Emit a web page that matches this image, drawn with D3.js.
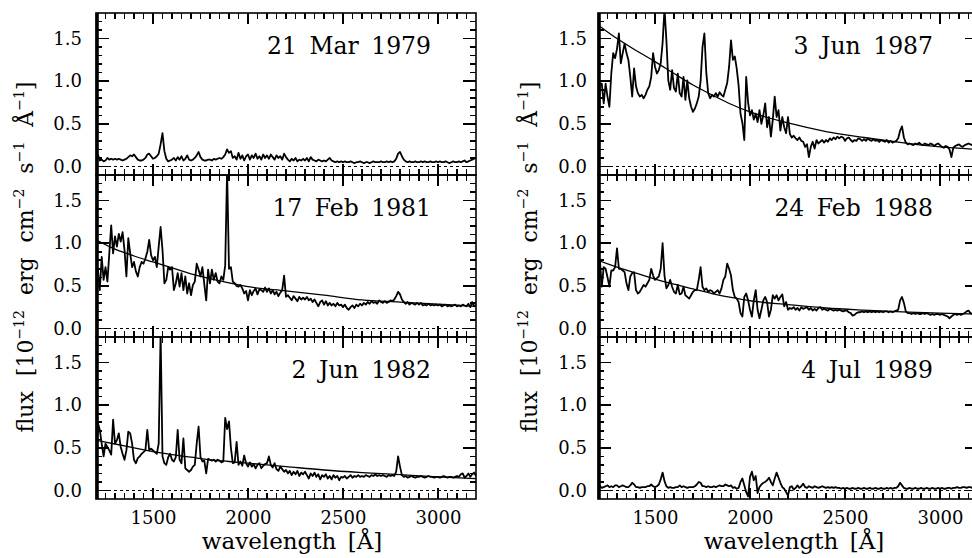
<!DOCTYPE html>
<html>
<head>
<meta charset="utf-8">
<script src="https://cdn.jsdelivr.net/npm/d3@7"></script>
<style>
  body { margin: 0; background: #fff; }
  svg { display: block; }
  text { font-family: "DejaVu Serif", serif; fill: #000; }
</style>
</head>
<body>
<svg id="chart" width="972" height="558"></svg>
<script>
// Spectra sampled on a regular wavelength grid (Å), flux in 1e-12 erg cm^-2 s^-1 Å^-1
const waveStart = 1200, waveEnd = 3200, waveStep = 10;

const flux1979 = [
  0.02,0.14,0.07,0.08,0.06,0.07,0.10,0.08,0.09,0.08,
  0.09,0.08,0.09,0.08,0.07,0.08,0.09,0.11,0.13,0.12,
  0.14,0.11,0.08,0.07,0.07,0.08,0.10,0.14,0.15,0.12,
  0.09,0.10,0.12,0.15,0.26,0.39,0.18,0.09,0.06,0.07,
  0.08,0.10,0.07,0.11,0.08,0.12,0.07,0.09,0.13,0.08,
  0.07,0.08,0.10,0.13,0.17,0.11,0.08,0.07,0.07,0.08,
  0.08,0.07,0.09,0.08,0.09,0.10,0.09,0.11,0.14,0.20,
  0.16,0.18,0.10,0.12,0.08,0.16,0.09,0.13,0.07,0.12,
  0.14,0.08,0.13,0.10,0.15,0.09,0.12,0.08,0.14,0.10,
  0.13,0.09,0.14,0.11,0.08,0.13,0.10,0.12,0.08,0.15,
  0.11,0.08,0.06,0.09,0.07,0.10,0.06,0.08,0.07,0.09,
  0.07,0.10,0.06,0.11,0.08,0.07,0.06,0.08,0.07,0.06,
  0.07,0.06,0.08,0.10,0.07,0.06,0.05,0.06,0.05,0.06,
  0.05,0.06,0.05,0.05,0.06,0.05,0.04,0.05,0.05,0.06,
  0.05,0.04,0.05,0.05,0.04,0.05,0.06,0.05,0.05,0.05,
  0.06,0.05,0.05,0.06,0.05,0.06,0.05,0.06,0.09,0.15,
  0.17,0.12,0.08,0.06,0.05,0.06,0.05,0.05,0.06,0.05,
  0.05,0.06,0.05,0.06,0.05,0.05,0.06,0.05,0.05,0.06,
  0.05,0.06,0.05,0.05,0.06,0.05,0.04,0.05,0.06,0.05,
  0.05,0.06,0.05,0.06,0.07,0.05,0.06,0.07,0.08,0.09,
  0.10
];

const flux1981 = [
  0.33,0.69,0.45,0.84,0.57,0.72,0.55,0.88,1.21,0.88,
  1.08,0.96,1.11,1.02,1.13,0.92,0.61,1.06,0.88,0.72,
  0.78,0.67,0.61,0.72,0.78,0.76,0.82,0.90,1.04,0.86,
  0.80,0.84,0.72,0.96,1.19,0.92,0.53,0.57,0.72,0.69,
  0.72,0.45,0.53,0.65,0.49,0.65,0.45,0.61,0.41,0.53,
  0.39,0.51,0.55,0.76,0.69,0.61,0.72,0.52,0.33,0.69,
  0.53,0.69,0.57,0.65,0.55,0.53,0.61,0.57,0.74,1.85,
  0.70,0.72,0.55,0.53,0.50,0.49,0.51,0.47,0.41,0.44,
  0.33,0.45,0.39,0.44,0.47,0.40,0.46,0.45,0.43,0.48,
  0.43,0.47,0.41,0.45,0.40,0.43,0.38,0.42,0.45,0.62,
  0.37,0.39,0.36,0.33,0.38,0.35,0.32,0.37,0.34,0.36,
  0.34,0.37,0.33,0.35,0.31,0.34,0.30,0.26,0.31,0.33,
  0.28,0.32,0.27,0.30,0.27,0.29,0.26,0.30,0.27,0.28,
  0.25,0.28,0.24,0.22,0.25,0.27,0.24,0.28,0.26,0.29,
  0.27,0.30,0.28,0.31,0.29,0.32,0.30,0.31,0.29,0.33,
  0.31,0.30,0.32,0.30,0.31,0.33,0.32,0.34,0.38,0.43,
  0.40,0.34,0.31,0.29,0.31,0.28,0.30,0.29,0.28,0.30,
  0.28,0.30,0.27,0.28,0.27,0.29,0.27,0.28,0.27,0.28,
  0.27,0.28,0.26,0.27,0.28,0.26,0.27,0.26,0.27,0.28,
  0.26,0.27,0.26,0.28,0.27,0.26,0.29,0.25,0.31,0.26,
  0.28
];

const flux1982 = [
  0.08,0.79,0.71,0.55,0.40,0.55,0.51,0.47,0.42,0.83,
  0.55,0.59,0.67,0.51,0.43,0.36,0.47,0.69,0.67,0.55,
  0.36,0.32,0.38,0.40,0.43,0.45,0.47,0.71,0.47,0.49,
  0.47,0.45,0.43,0.55,1.85,0.40,0.32,0.30,0.39,0.43,
  0.36,0.34,0.39,0.71,0.36,0.32,0.61,0.26,0.24,0.22,
  0.24,0.28,0.30,0.55,0.75,0.39,0.34,0.35,0.20,0.37,
  0.36,0.35,0.36,0.34,0.36,0.35,0.33,0.34,0.85,0.72,
  0.81,0.50,0.32,0.33,0.57,0.30,0.34,0.29,0.41,0.32,
  0.28,0.33,0.28,0.31,0.26,0.30,0.32,0.26,0.29,0.31,
  0.32,0.40,0.30,0.27,0.32,0.25,0.23,0.28,0.25,0.22,
  0.24,0.20,0.23,0.18,0.22,0.19,0.23,0.17,0.21,0.19,
  0.22,0.18,0.14,0.20,0.17,0.21,0.16,0.19,0.13,0.18,
  0.16,0.19,0.14,0.17,0.13,0.18,0.15,0.17,0.12,0.16,
  0.15,0.17,0.14,0.16,0.18,0.15,0.17,0.16,0.18,0.16,
  0.17,0.16,0.18,0.17,0.16,0.18,0.17,0.19,0.17,0.18,
  0.17,0.18,0.17,0.16,0.18,0.17,0.18,0.17,0.22,0.40,
  0.28,0.18,0.16,0.17,0.15,0.16,0.17,0.16,0.15,0.16,
  0.16,0.17,0.16,0.15,0.16,0.17,0.16,0.16,0.15,0.16,
  0.16,0.15,0.16,0.17,0.16,0.15,0.16,0.16,0.15,0.16,
  0.17,0.16,0.19,0.20,0.15,0.17,0.20,0.16,0.19,0.21,
  0.17
];

const flux1987 = [
  0.05,0.97,0.97,0.74,0.97,0.82,0.70,1.09,1.33,1.27,
  1.38,1.56,1.21,1.33,1.44,1.33,1.25,1.05,0.82,1.15,
  0.94,0.86,0.82,0.84,0.80,0.84,0.90,0.94,1.05,1.33,
  1.17,1.09,1.13,1.21,1.45,1.85,1.48,1.01,0.90,1.13,
  0.92,0.88,1.09,0.86,0.82,1.05,0.78,1.01,0.80,0.70,
  0.64,0.68,0.74,0.82,1.00,1.40,1.56,1.10,0.86,0.80,
  0.84,0.82,0.86,0.82,0.87,0.84,0.82,0.90,0.98,1.17,
  1.48,1.25,1.29,1.15,0.95,0.62,0.51,0.31,1.05,0.75,
  0.60,0.66,0.55,0.62,0.52,0.66,0.50,0.60,0.74,0.46,
  0.58,0.35,0.55,0.82,0.58,0.66,0.42,0.58,0.46,0.39,
  0.58,0.38,0.34,0.36,0.33,0.31,0.34,0.30,0.29,0.23,
  0.26,0.11,0.23,0.29,0.21,0.31,0.27,0.29,0.31,0.28,
  0.31,0.29,0.33,0.31,0.34,0.32,0.35,0.33,0.35,0.34,
  0.30,0.33,0.34,0.31,0.29,0.31,0.30,0.33,0.32,0.30,
  0.32,0.30,0.33,0.31,0.30,0.32,0.30,0.31,0.29,0.31,
  0.30,0.29,0.31,0.28,0.30,0.28,0.29,0.30,0.33,0.42,
  0.47,0.34,0.28,0.26,0.27,0.26,0.25,0.27,0.26,0.28,
  0.26,0.25,0.27,0.26,0.25,0.27,0.26,0.24,0.26,0.27,
  0.25,0.23,0.22,0.24,0.23,0.20,0.11,0.22,0.24,0.25,
  0.26,0.24,0.23,0.25,0.26,0.27,0.26,0.25,0.27,0.26,
  0.25
];

const flux1988 = [
  0.49,0.80,0.49,0.72,0.70,0.60,0.49,0.68,0.68,0.72,
  0.94,0.70,0.70,0.68,0.66,0.53,0.45,0.61,0.65,0.66,
  0.45,0.41,0.43,0.47,0.51,0.49,0.53,0.57,0.70,0.62,
  0.57,0.59,0.61,0.70,1.00,0.62,0.47,0.51,0.57,0.49,
  0.43,0.41,0.51,0.40,0.41,0.49,0.39,0.37,0.35,0.39,
  0.43,0.45,0.45,0.57,0.72,0.49,0.45,0.47,0.43,0.45,
  0.44,0.41,0.43,0.45,0.41,0.47,0.57,0.61,0.76,0.70,
  0.62,0.45,0.37,0.35,0.31,0.18,0.14,0.37,0.41,0.33,
  0.22,0.14,0.33,0.45,0.22,0.12,0.22,0.33,0.37,0.31,
  0.14,0.22,0.39,0.35,0.39,0.33,0.37,0.40,0.26,0.31,
  0.22,0.24,0.23,0.25,0.22,0.24,0.21,0.25,0.23,0.24,
  0.25,0.22,0.24,0.21,0.23,0.21,0.24,0.25,0.22,0.23,
  0.22,0.21,0.23,0.22,0.21,0.22,0.21,0.22,0.21,0.20,
  0.21,0.21,0.19,0.18,0.15,0.16,0.18,0.19,0.19,0.20,
  0.19,0.20,0.19,0.20,0.19,0.20,0.19,0.20,0.19,0.20,
  0.19,0.20,0.20,0.19,0.20,0.19,0.20,0.21,0.22,0.33,
  0.37,0.30,0.20,0.18,0.18,0.17,0.18,0.17,0.18,0.17,
  0.17,0.18,0.17,0.18,0.17,0.16,0.17,0.16,0.17,0.17,
  0.16,0.17,0.16,0.15,0.14,0.12,0.14,0.16,0.17,0.16,
  0.17,0.16,0.17,0.18,0.20,0.21,0.18,0.17,0.18,0.17,
  0.18
];

const flux1989 = [
  0.10,0.05,0.03,0.04,0.05,0.06,0.04,0.05,0.04,0.06,
  0.06,0.04,0.05,0.06,0.05,0.04,0.04,0.06,0.09,0.07,
  0.04,0.04,0.03,0.04,0.04,0.04,0.05,0.05,0.07,0.05,
  0.04,0.05,0.07,0.13,0.21,0.11,0.05,0.03,0.04,0.03,
  0.03,0.04,0.04,0.06,0.04,0.05,0.04,0.03,0.04,0.04,
  0.04,0.05,0.07,0.10,0.09,0.05,0.05,0.04,0.05,0.04,
  0.04,0.05,0.04,0.05,0.06,0.05,0.05,0.07,0.06,0.05,
  0.06,0.03,0.04,0.02,0.03,0.10,0.14,0.06,-0.02,-0.07,
  0.16,0.22,0.12,0.17,-0.03,0.04,0.07,0.09,0.10,0.12,
  0.15,0.10,0.06,0.14,0.21,0.15,0.09,0.04,0.02,-0.02,
  -0.06,0.04,0.05,0.01,0.03,0.06,0.03,0.05,0.08,0.04,
  0.03,0.05,0.04,0.03,0.05,0.04,0.03,0.04,0.05,0.04,
  0.03,0.04,0.03,0.04,0.03,0.04,0.03,0.03,0.02,0.03,
  0.02,0.03,0.02,0.02,0.03,0.02,0.02,0.03,0.02,0.02,
  0.03,0.02,0.02,0.03,0.02,0.02,0.03,0.02,0.02,0.03,
  0.02,0.02,0.03,0.02,0.03,0.02,0.03,0.03,0.05,0.09,
  0.06,0.03,0.02,0.02,0.03,0.02,0.02,0.03,0.02,0.02,
  0.03,0.02,0.02,0.03,0.02,0.02,0.03,0.02,0.02,0.03,
  0.02,0.03,0.02,0.02,0.03,0.03,0.02,0.03,0.03,0.04,
  0.03,0.03,0.04,0.04,0.03,0.04,0.04,0.03,0.04,0.04,
  0.04
];

// Continuum fits, sampled at these wavelengths
const fitWave = [1200,1300,1400,1500,1600,1700,1800,1900,2000,2200,2400,2600,2800,3000,3200];
const fit1981 = [1.04,0.93,0.85,0.78,0.71,0.64,0.585,0.535,0.49,0.44,0.39,0.335,0.31,0.285,0.26];
const fit1982 = [0.59,0.545,0.50,0.455,0.42,0.39,0.36,0.34,0.32,0.28,0.24,0.21,0.185,0.16,0.14];
const fit1987 = [1.66,1.50,1.36,1.23,1.09,0.955,0.84,0.73,0.64,0.51,0.41,0.34,0.28,0.23,0.20];
const fit1988 = [0.80,0.72,0.65,0.58,0.52,0.465,0.41,0.365,0.325,0.28,0.24,0.215,0.195,0.18,0.17];

const dates = ["21 Mar 1979", "17 Feb 1981", "2 Jun 1982", "3 Jun 1987", "24 Feb 1988", "4 Jul 1989"];
const spectra = [flux1979, flux1981, flux1982, flux1987, flux1988, flux1989];
const fits = [null, fit1981, fit1982, fit1987, fit1988, null];

const xTickLabels = [1500, 2000, 2500, 3000];
const yTickLabels = [0, 0.5, 1.0, 1.5];

// ---- layout ----
const svg = d3.select("#chart");
const colX = [96, 598];
const panelW = 380, panelH = 162, top0 = 13;
const wavelengths = d3.range(waveStart, waveEnd + 1, waveStep);
const fontFam = '"DejaVu Serif", serif';

spectra.forEach((flux, k) => {
  const col = Math.floor(k / 3), row = k % 3;
  const x0 = colX[col], y0 = top0 + row * panelH;
  const g = svg.append("g").attr("transform", `translate(${x0},${y0})`);

  const x = d3.scaleLinear().domain([1200, 3200]).range([0, panelW]);
  const y = d3.scaleLinear().domain([-0.1, 1.8]).range([panelH, 0]);

  const clipId = "clip" + k;
  g.append("clipPath").attr("id", clipId)
    .append("rect").attr("width", panelW).attr("height", panelH);
  const plot = g.append("g").attr("clip-path", `url(#${clipId})`);

  // zero level
  plot.append("line")
    .attr("x1", 0).attr("x2", panelW)
    .attr("y1", y(0)).attr("y2", y(0))
    .attr("stroke", "#000").attr("stroke-width", 1.1)
    .attr("stroke-dasharray", "3,3");

  // continuum fit
  if (fits[k]) {
    const fitLine = d3.line().x((d, i) => x(fitWave[i])).y(d => y(d)).curve(d3.curveMonotoneX);
    plot.append("path").datum(fits[k])
      .attr("d", fitLine)
      .attr("fill", "none").attr("stroke", "#000").attr("stroke-width", 1.3);
  }

  // spectrum
  const specLine = d3.line().x((d, i) => x(wavelengths[i])).y(d => y(d));
  plot.append("path").datum(flux)
    .attr("d", specLine)
    .attr("fill", "none").attr("stroke", "#000")
    .attr("stroke-width", 1.8).attr("stroke-linejoin", "round");

  // inward ticks on all four sides: majors every 500 Å / 0.5, minors every 50 Å / 0.1
  const xt = d3.range(1250, 3200, 50).map(v => ({ v, len: v % 500 === 0 ? 11 : 6 }));
  const yt = d3.range(0, 18).map(t => ({ v: t / 10, len: t % 5 === 0 ? 13 : 6 }));
  const tickG = g.append("g").attr("shape-rendering", "crispEdges");
  const tickLine = sel => sel.attr("stroke", "#000").attr("stroke-width", 1.6).attr("fill", "none");

  tickG.selectAll("line.xb").data(xt).join("line").attr("class", "xb")
    .attr("x1", d => x(d.v)).attr("x2", d => x(d.v))
    .attr("y1", panelH).attr("y2", d => panelH - d.len).call(tickLine);
  tickG.selectAll("line.xt").data(xt).join("line").attr("class", "xt")
    .attr("x1", d => x(d.v)).attr("x2", d => x(d.v))
    .attr("y1", 0).attr("y2", d => d.len).call(tickLine);
  tickG.selectAll("line.yl").data(yt).join("line").attr("class", "yl")
    .attr("x1", 0).attr("x2", d => d.len)
    .attr("y1", d => y(d.v)).attr("y2", d => y(d.v)).call(tickLine);
  tickG.selectAll("line.yr").data(yt).join("line").attr("class", "yr")
    .attr("x1", panelW).attr("x2", d => panelW - d.len)
    .attr("y1", d => y(d.v)).attr("y2", d => y(d.v)).call(tickLine);

  // tick labels
  const styleAxis = sel => {
    sel.select(".domain").remove();
    sel.selectAll(".tick line").remove();
    sel.selectAll("text").attr("font-family", fontFam).attr("font-size", 18).attr("fill", "#000");
  };
  g.append("g").call(d3.axisLeft(y).tickValues(yTickLabels).tickSize(0)
    .tickPadding(col === 0 ? 14 : 11).tickFormat(d3.format(".1f"))).call(styleAxis);
  if (row === 2) {
    g.append("g").attr("transform", `translate(0,${panelH})`)
      .call(d3.axisBottom(x).tickValues(xTickLabels).tickSize(0).tickPadding(12)
      .tickFormat(d3.format("d"))).call(styleAxis);
  }

  // frame
  g.append("rect").attr("width", panelW).attr("height", panelH)
    .attr("fill", "none").attr("stroke", "#000").attr("stroke-width", 1.6);
  g.append("line").attr("x1", 1.2).attr("x2", 1.2).attr("y1", 0).attr("y2", panelH)
    .attr("stroke", "#000").attr("stroke-width", 3.2);

  // date label
  g.append("text")
    .attr("x", panelW - 45).attr("y", 41)
    .attr("text-anchor", "end")
    .attr("font-size", 23.5)
    .attr("word-spacing", 5)
    .text(dates[k]);
});

// axis titles
function fluxLabel(cx, cy) {
  const t = svg.append("text")
    .attr("transform", `translate(${cx},${cy}) rotate(-90)`)
    .attr("text-anchor", "middle").attr("font-size", 22).attr("word-spacing", 8);
  const parts = [["flux [10", 0], ["\u221212", 1], [" erg cm", 0], ["\u22122", 1],
                 [" s", 0], ["\u22121", 1], [" \u00C5", 0], ["\u22121", 1], ["]", 0]];
  let raised = false;
  parts.forEach(([s, sup]) => {
    const ts = t.append("tspan").text(s);
    if (sup && !raised) { ts.attr("dy", -9).attr("font-size", 14); raised = true; }
    else if (!sup && raised) { ts.attr("dy", 9); raised = false; }
  });
}
fluxLabel(33, 257);
fluxLabel(537, 257);

[0, 1].forEach(col => {
  svg.append("text")
    .attr("x", colX[col] + panelW / 2 + 6).attr("y", 549)
    .attr("text-anchor", "middle").attr("font-size", 23).attr("word-spacing", 4)
    .text("wavelength [\u00C5]");
});
</script>
</body>
</html>
